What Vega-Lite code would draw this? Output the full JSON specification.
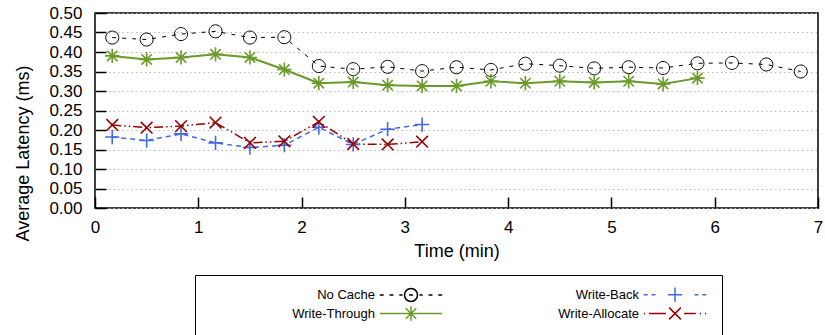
{
  "$schema": "https://vega.github.io/schema/vega-lite/v6.json",
  "width": 723,
  "height": 195,
  "autosize": {"type": "none"},
  "padding": {"left": 95, "top": 13, "right": 7, "bottom": 127},
  "background": "white",
  "config": {
    "font": "Liberation Sans",
    "view": {"stroke": "black", "strokeWidth": 1.5},
    "axis": {
      "labelFont": "Liberation Sans", "labelFontSize": 17, "labelColor": "black",
      "titleFont": "Liberation Sans", "titleFontSize": 18, "titleFontWeight": "normal", "titleColor": "black",
      "domain": false, "tickColor": "black", "tickWidth": 1.5, "tickSize": -11
    }
  },
  "data": {"values": [
    {"series": "No Cache", "time": 0.167, "latency": 0.437},
    {"series": "No Cache", "time": 0.5, "latency": 0.432},
    {"series": "No Cache", "time": 0.833, "latency": 0.446},
    {"series": "No Cache", "time": 1.167, "latency": 0.453},
    {"series": "No Cache", "time": 1.5, "latency": 0.437},
    {"series": "No Cache", "time": 1.833, "latency": 0.438},
    {"series": "No Cache", "time": 2.167, "latency": 0.364},
    {"series": "No Cache", "time": 2.5, "latency": 0.356},
    {"series": "No Cache", "time": 2.833, "latency": 0.362},
    {"series": "No Cache", "time": 3.167, "latency": 0.351},
    {"series": "No Cache", "time": 3.5, "latency": 0.361},
    {"series": "No Cache", "time": 3.833, "latency": 0.354},
    {"series": "No Cache", "time": 4.167, "latency": 0.370},
    {"series": "No Cache", "time": 4.5, "latency": 0.365},
    {"series": "No Cache", "time": 4.833, "latency": 0.358},
    {"series": "No Cache", "time": 5.167, "latency": 0.361},
    {"series": "No Cache", "time": 5.5, "latency": 0.359},
    {"series": "No Cache", "time": 5.833, "latency": 0.371},
    {"series": "No Cache", "time": 6.167, "latency": 0.372},
    {"series": "No Cache", "time": 6.5, "latency": 0.368},
    {"series": "No Cache", "time": 6.833, "latency": 0.350},
    {"series": "Write-Through", "time": 0.167, "latency": 0.390},
    {"series": "Write-Through", "time": 0.5, "latency": 0.381},
    {"series": "Write-Through", "time": 0.833, "latency": 0.386},
    {"series": "Write-Through", "time": 1.167, "latency": 0.394},
    {"series": "Write-Through", "time": 1.5, "latency": 0.386},
    {"series": "Write-Through", "time": 1.833, "latency": 0.355},
    {"series": "Write-Through", "time": 2.167, "latency": 0.320},
    {"series": "Write-Through", "time": 2.5, "latency": 0.323},
    {"series": "Write-Through", "time": 2.833, "latency": 0.315},
    {"series": "Write-Through", "time": 3.167, "latency": 0.313},
    {"series": "Write-Through", "time": 3.5, "latency": 0.313},
    {"series": "Write-Through", "time": 3.833, "latency": 0.325},
    {"series": "Write-Through", "time": 4.167, "latency": 0.320},
    {"series": "Write-Through", "time": 4.5, "latency": 0.325},
    {"series": "Write-Through", "time": 4.833, "latency": 0.322},
    {"series": "Write-Through", "time": 5.167, "latency": 0.325},
    {"series": "Write-Through", "time": 5.5, "latency": 0.318},
    {"series": "Write-Through", "time": 5.833, "latency": 0.333},
    {"series": "Write-Back", "time": 0.167, "latency": 0.182},
    {"series": "Write-Back", "time": 0.5, "latency": 0.173},
    {"series": "Write-Back", "time": 0.833, "latency": 0.190},
    {"series": "Write-Back", "time": 1.167, "latency": 0.167},
    {"series": "Write-Back", "time": 1.5, "latency": 0.155},
    {"series": "Write-Back", "time": 1.833, "latency": 0.161},
    {"series": "Write-Back", "time": 2.167, "latency": 0.207},
    {"series": "Write-Back", "time": 2.5, "latency": 0.163},
    {"series": "Write-Back", "time": 2.833, "latency": 0.202},
    {"series": "Write-Back", "time": 3.167, "latency": 0.214},
    {"series": "Write-Allocate", "time": 0.167, "latency": 0.213},
    {"series": "Write-Allocate", "time": 0.5, "latency": 0.206},
    {"series": "Write-Allocate", "time": 0.833, "latency": 0.210},
    {"series": "Write-Allocate", "time": 1.167, "latency": 0.219},
    {"series": "Write-Allocate", "time": 1.5, "latency": 0.167},
    {"series": "Write-Allocate", "time": 1.833, "latency": 0.171},
    {"series": "Write-Allocate", "time": 2.167, "latency": 0.221},
    {"series": "Write-Allocate", "time": 2.5, "latency": 0.164},
    {"series": "Write-Allocate", "time": 2.833, "latency": 0.163},
    {"series": "Write-Allocate", "time": 3.167, "latency": 0.170}
  ]},
  "encoding": {
    "x": {"field": "time", "type": "quantitative",
      "scale": {"domain": [0, 7], "nice": false, "zero": false},
      "axis": {"values": [0, 1, 2, 3, 4, 5, 6, 7], "title": "Time (min)", "grid": false, "labelPadding": 22, "titlePadding": 7, "labelFlush": false}},
    "y": {"field": "latency", "type": "quantitative",
      "scale": {"domain": [0, 0.5], "nice": false},
      "axis": {"values": [0, 0.05, 0.1, 0.15, 0.2, 0.25, 0.3, 0.35, 0.4, 0.45, 0.5], "format": ".2f", "title": "Average Latency (ms)", "titleY": 140, "labelPadding": 24, "titlePadding": 16, "grid": true, "gridDash": [1.5, 3], "gridColor": "#b8b8b8", "gridWidth": 1, "labelFlush": false}}
  },
  "layer": [
    {"transform": [{"filter": "datum.series === 'No Cache'"}],
     "mark": {"type": "line", "color": "black", "strokeWidth": 1, "strokeDash": [4, 6]}},
    {"transform": [{"filter": "datum.series === 'Write-Through'"}],
     "mark": {"type": "line", "color": "#6a9a2a", "strokeWidth": 2}},
    {"transform": [{"filter": "datum.series === 'Write-Back'"}],
     "mark": {"type": "line", "color": "#4169e1", "strokeWidth": 1.5, "strokeDash": [5, 4]}},
    {"transform": [{"filter": "datum.series === 'Write-Allocate'"}],
     "mark": {"type": "line", "color": "#990000", "strokeWidth": 1.5, "strokeDash": [9, 3, 1.5, 3, 1.5, 3]}},
    {"mark": {"type": "point", "filled": false, "opacity": 1, "size": 169},
     "encoding": {
       "strokeWidth": {"condition": {"test": "datum.series === 'No Cache'", "value": 1}, "value": 1.6},
       "color": {"field": "series", "type": "nominal", "legend": null,
         "scale": {"domain": ["No Cache", "Write-Back", "Write-Through", "Write-Allocate"], "range": ["black", "#4169e1", "#6a9a2a", "#990000"]}},
       "shape": {"field": "series", "type": "nominal", "legend": null,
         "scale": {"domain": ["No Cache", "Write-Back", "Write-Through", "Write-Allocate"],
           "range": [
             "M1,0A1,1 0 1,1 -1,0A1,1 0 1,1 1,0",
             "M-1.1,0L1.1,0M0,-1.1L0,1.1",
             "M-1.1,0L1.1,0M0,-1.1L0,1.1M-0.8,-0.8L0.8,0.8M-0.8,0.8L0.8,-0.8",
             "M-0.9,-0.9L0.9,0.9M-0.9,0.9L0.9,-0.9"
           ]}}
     }},
    {"transform": [{"filter": "false"}],
     "mark": {"type": "point", "filled": false, "opacity": 1, "size": 169, "strokeWidth": 1.5},
     "encoding": {
       "color": {"field": "series", "type": "nominal",
         "scale": {"domain": ["No Cache", "Write-Through", "Write-Back", "Write-Allocate"], "range": ["black", "#6a9a2a", "#4169e1", "#990000"]},
         "legend": {"orient": "none", "legendX": 100, "legendY": 262, "title": null, "columns": 2,
           "symbolSize": 169, "symbolStrokeWidth": 1.5, "symbolOffset": 196.5, "labelAlign": "right", "labelOffset": -43.5,
           "labelFont": "Liberation Sans", "labelFontSize": 13, "labelColor": "black", "labelLimit": 300,
           "rowPadding": -2, "columnPadding": 25, "padding": 12, "strokeColor": "black",
           "encode": {"legend": {"strokeDash": {"value": [5, 3]}, "strokeWidth": {"value": 1.5}}}}},
       "shape": {"field": "series", "type": "nominal",
         "scale": {"domain": ["No Cache", "Write-Through", "Write-Back", "Write-Allocate"],
           "range": [
             "M-4.8,0L-4.2,0 M-3.3,0L-2.7,0 M-1.8,0L-1.3,0 M1,0A1,1 0 1,1 -1,0A1,1 0 1,1 1,0 M-0.3,0L0.3,0 M1.3,0L1.8,0 M2.7,0L3.3,0 M4.2,0L4.8,0",
             "M-4.8,0L4.8,0 M-1.1,0L1.1,0 M0,-1.1L0,1.1 M-0.8,-0.8L0.8,0.8 M-0.8,0.8L0.8,-0.8",
             "M-4.8,0L-4.2,0 M-3.6,0L-3.0,0 M-1.1,0L1.1,0 M0,-1.1L0,1.1 M3.0,0L3.6,0 M4.2,0L4.8,0",
             "M-4.8,0L-4.6,0 M-4.0,0L-1.4,0 M-0.9,-0.9L0.9,0.9 M-0.9,0.9L0.9,-0.9 M1.4,0L3.2,0 M3.8,0L4.0,0 M4.6,0L4.8,0"
           ]},
         "legend": {"orient": "none", "legendX": 100, "legendY": 262, "title": null, "columns": 2,
           "symbolSize": 169, "symbolStrokeWidth": 1.5, "symbolOffset": 196.5, "labelAlign": "right", "labelOffset": -43.5,
           "labelFont": "Liberation Sans", "labelFontSize": 13, "labelColor": "black", "labelLimit": 300,
           "rowPadding": -2, "columnPadding": 25, "padding": 12, "strokeColor": "black",
           "encode": {"legend": {"strokeDash": {"value": [5, 3]}, "strokeWidth": {"value": 1.5}}}}}
     }}
  ],
  "resolve": {"scale": {"color": "independent", "shape": "independent"}}
}
